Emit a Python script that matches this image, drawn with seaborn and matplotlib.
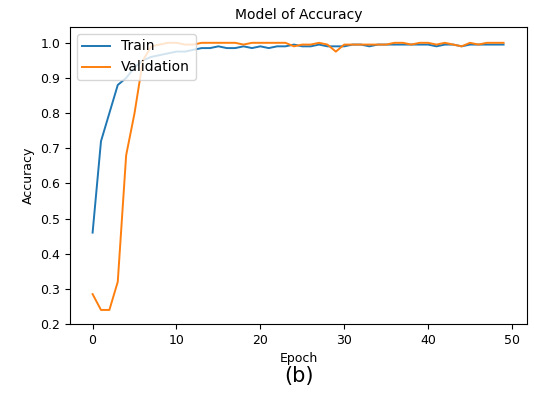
import numpy as np
import pandas as pd
import matplotlib
matplotlib.use('Agg')
import matplotlib.pyplot as plt
import seaborn as sns

# accuracy per epoch
epochs = list(range(50))
train_acc = [0.46, 0.72, 0.80, 0.88, 0.90, 0.93, 0.95, 0.96, 0.965, 0.97,
             0.975, 0.975, 0.98, 0.985, 0.985, 0.99, 0.985, 0.985, 0.99, 0.985,
             0.99, 0.985, 0.99, 0.99, 0.995, 0.99, 0.99, 0.995, 0.99, 0.99,
             0.99, 0.995, 0.995, 0.99, 0.995, 0.995, 0.995, 0.995, 0.995, 0.995,
             0.995, 0.99, 0.995, 0.995, 0.99, 0.995, 0.995, 0.995, 0.995, 0.995]
val_acc = [0.285, 0.24, 0.24, 0.32, 0.68, 0.80, 0.95, 0.99, 0.995, 1.0,
           1.0, 0.995, 0.995, 1.0, 1.0, 1.0, 1.0, 1.0, 0.995, 1.0,
           1.0, 1.0, 1.0, 1.0, 0.99, 0.995, 0.995, 1.0, 0.995, 0.975,
           0.995, 0.995, 0.995, 0.995, 0.995, 0.995, 1.0, 1.0, 0.995, 1.0,
           1.0, 0.995, 1.0, 0.995, 0.99, 1.0, 0.995, 1.0, 1.0, 1.0]

df = pd.DataFrame({'Epoch': epochs * 2,
                   'Accuracy': train_acc + val_acc,
                   'set': ['Train'] * 50 + ['Validation'] * 50})

fig = plt.figure(figsize=(5.34, 4.0), dpi=100)
ax = fig.add_axes([0.131, 0.19, 0.856, 0.7425])
sns.lineplot(data=df, x='Epoch', y='Accuracy', hue='set',
             palette=['#1f77b4', '#ff7f0e'], linewidth=1.4, ax=ax)
ax.set_title('Model of Accuracy', fontsize=10)
ax.set_ylim(0.2, 1.045)
ax.set_xlim(-2.7, 51.8)
ax.set_yticks([0.2, 0.3, 0.4, 0.5, 0.6, 0.7, 0.8, 0.9, 1.0])
ax.tick_params(labelsize=9)
ax.set_xlabel('Epoch', fontsize=9)
ax.set_ylabel('Accuracy', fontsize=9)
ax.legend(loc='upper left', fontsize=10)
fig.text(0.56, 0.045, '(b)', fontsize=15, ha='center')

plt.savefig('out.png', dpi=100)
